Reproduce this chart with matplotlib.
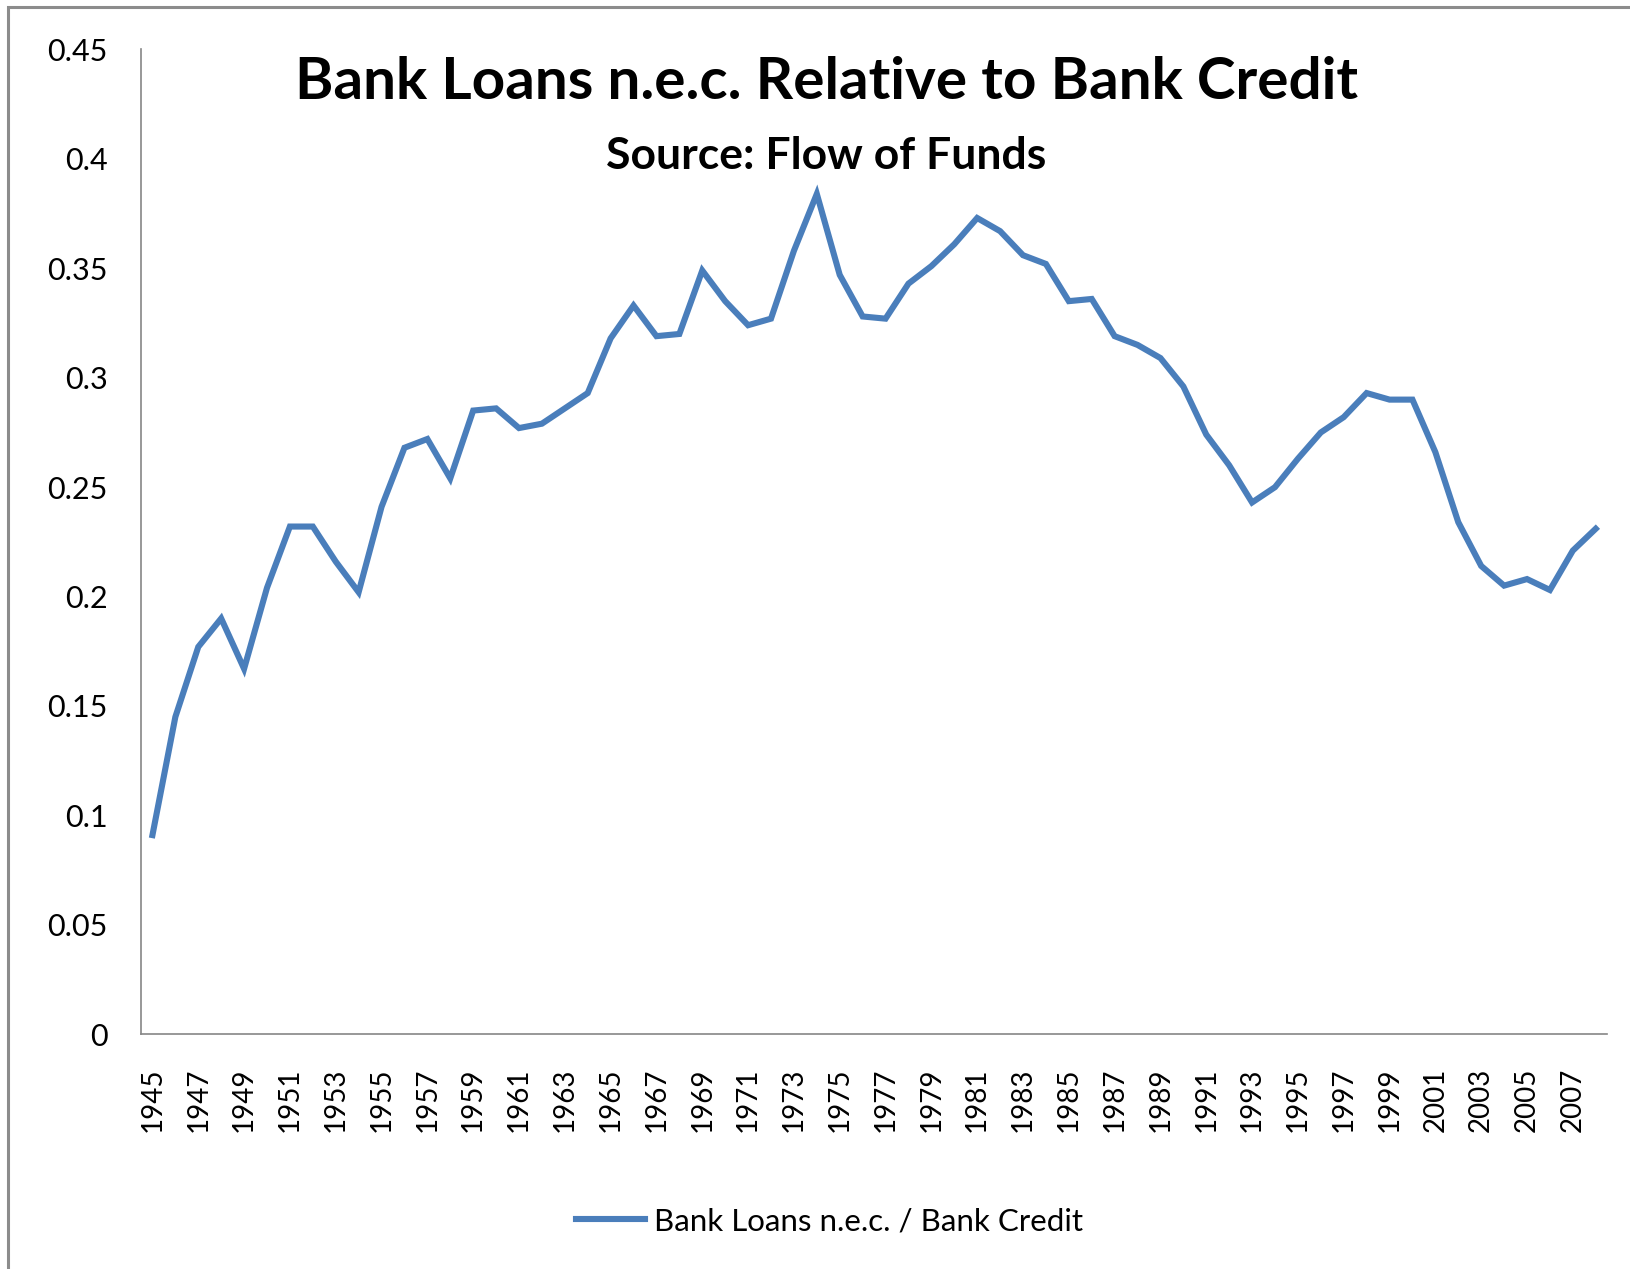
import matplotlib
matplotlib.use("Agg")
import matplotlib.pyplot as plt
from matplotlib.patches import Rectangle
import numpy as np

plt.rcParams['font.family'] = ['Lato', 'DejaVu Sans']

years = list(range(1945, 2009))
ratio = [0.091, 0.145, 0.177, 0.190, 0.167, 0.204, 0.232, 0.232, 0.216, 0.202,
         0.241, 0.268, 0.272, 0.254, 0.285, 0.286, 0.277, 0.279, 0.286, 0.293,
         0.318, 0.333, 0.319, 0.320, 0.349, 0.335, 0.324, 0.327, 0.358, 0.384,
         0.347, 0.328, 0.327, 0.343, 0.351, 0.361, 0.373, 0.367, 0.356, 0.352,
         0.335, 0.336, 0.319, 0.315, 0.309, 0.296, 0.274, 0.260, 0.243, 0.250,
         0.263, 0.275, 0.282, 0.293, 0.290, 0.290, 0.266, 0.234, 0.214, 0.205,
         0.208, 0.203, 0.221, 0.231]
yticks = [0, 0.05, 0.1, 0.15, 0.2, 0.25, 0.3, 0.35, 0.4, 0.45]
ytick_labels = ['0', '0.05', '0.1', '0.15', '0.2', '0.25', '0.3', '0.35', '0.4', '0.45']

fig = plt.figure(figsize=(16.3, 12.69), dpi=100)
ax = fig.add_axes([0.0865, 0.185, 0.8995, 0.776])

pos = np.arange(len(years))
ax.plot(pos, ratio, color='#4A7EBB', lw=4.4, solid_joinstyle='miter',
        label='Bank Loans n.e.c. / Bank Credit')

ax.set_xlim(-0.5, len(years) - 0.5)
ax.set_ylim(0, 0.45)
ax.set_yticks(yticks)
ax.set_yticklabels(ytick_labels, fontsize=22)
ax.set_xticks(pos[::2])
ax.set_xticklabels([str(y) for y in years[::2]], rotation=90, fontsize=20)
ax.tick_params(axis='both', length=0)
ax.tick_params(axis='x', pad=24)
ax.tick_params(axis='y', pad=24)

for s in ['top', 'right']:
    ax.spines[s].set_visible(False)
for s in ['left', 'bottom']:
    ax.spines[s].set_color('#868686')
    ax.spines[s].set_linewidth(1.2)

fig.text(0.507, 0.935, 'Bank Loans n.e.c. Relative to Bank Credit',
         ha='center', va='center', fontsize=42, fontweight='bold')
fig.text(0.507, 0.877, 'Source: Flow of Funds',
         ha='center', va='center', fontsize=32, fontweight='bold')

ax.legend(loc='center', bbox_to_anchor=(0.4695, -0.19), frameon=False,
          fontsize=22.5, handlelength=2.2, handletextpad=0.3)

# outer chart border
fig.add_artist(Rectangle((8 / 1630, -0.1), 1.2, 1 - 7 / 1269 + 0.1,
                         transform=fig.transFigure, fill=False,
                         edgecolor='#8c8c8c', lw=2.2, clip_on=False))

fig.savefig('out.png', dpi=100)
